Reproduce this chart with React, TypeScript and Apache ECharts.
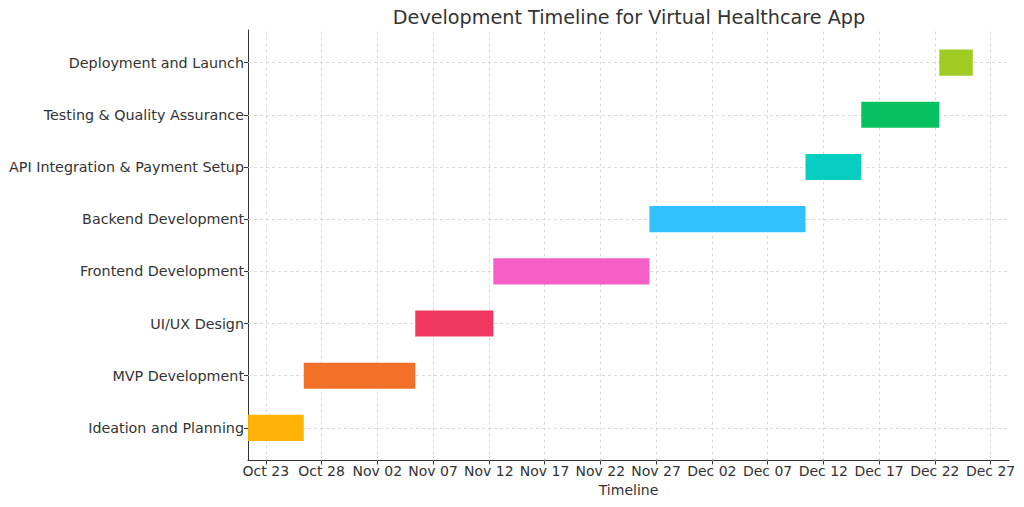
import React, { useEffect, useRef } from "react";
import * as echarts from "echarts";

const tasks = [
  "Ideation and Planning",
  "MVP Development",
  "UI/UX Design",
  "Frontend Development",
  "Backend Development",
  "API Integration & Payment Setup",
  "Testing & Quality Assurance",
  "Deployment and Launch",
];
const startDates = [
  "2023-10-21T09:40:00Z",
  "2023-10-26T09:40:00Z",
  "2023-11-05T09:40:00Z",
  "2023-11-12T09:40:00Z",
  "2023-11-26T09:40:00Z",
  "2023-12-10T09:40:00Z",
  "2023-12-15T09:40:00Z",
  "2023-12-22T09:40:00Z",
];
const durations = [5, 10, 7, 14, 14, 5, 7, 3];
const colors = [
  "#FFB000",
  "#F36B22",
  "#EF3158",
  "#F65AC4",
  "#2BBFFF",
  "#00CCC0",
  "#00C05C",
  "#9DC91C",
];
const tickDates = [
  "2023-10-23", "2023-10-28", "2023-11-02", "2023-11-07", "2023-11-12",
  "2023-11-17", "2023-11-22", "2023-11-27", "2023-12-02", "2023-12-07",
  "2023-12-12", "2023-12-17", "2023-12-22", "2023-12-27",
];
const monthNames = ["Jan", "Feb", "Mar", "Apr", "May", "Jun", "Jul", "Aug", "Sep", "Oct", "Nov", "Dec"];

const DAY = 86400000;
const toDay = (s: string) => Date.parse(s.length === 10 ? s + "T00:00:00Z" : s) / DAY;
const fmt = (d: number) => {
  const dt = new Date(Math.round(d * DAY));
  const dd = dt.getUTCDate();
  return monthNames[dt.getUTCMonth()] + " " + (dd < 10 ? "0" + dd : "" + dd);
};

export default function App() {
  const ref = useRef<HTMLDivElement>(null);
  useEffect(() => {
    if (!ref.current) return;
    const chart = echarts.init(ref.current, undefined, { renderer: "svg" });
    const starts = startDates.map(toDay);
    const ends = starts.map((s, i) => s + durations[i]);
    const xMin = Math.min(...starts);
    const xEndData = Math.max(...ends);
    const xMax = xEndData + 0.05 * (xEndData - xMin);
    const tickDays = tickDates.map(toDay);
    const yIdx = tasks.map((_, i) => i);
    const font = "DejaVu Sans";
    const gridLine = { color: "#d0d0d0", width: 0.8, type: [3, 3] as any };

    chart.setOption({
      animation: false,
      textStyle: { fontFamily: font },
      title: {
        text: "Development Timeline for Virtual Healthcare App",
        left: 624,
        top: 3,
        textAlign: "center",
        textStyle: { fontFamily: font, fontSize: 19.2, fontWeight: "normal", color: "#333" },
      },
      grid: { left: 248, right: 15, top: 30, bottom: 46.5, containLabel: false },
      xAxis: {
        type: "value",
        min: xMin,
        max: xMax,
        name: "Timeline",
        nameLocation: "middle",
        nameGap: 22,
        nameTextStyle: { fontFamily: font, fontSize: 14, color: "#333" },
        axisLine: { show: true, onZero: false, lineStyle: { color: "#333", width: 1 } },
        axisTick: { show: true, customValues: tickDays, length: 4, lineStyle: { color: "#333" } },
        axisLabel: {
          customValues: tickDays,
          formatter: (v: number) => fmt(v),
          fontFamily: font,
          fontSize: 14,
          color: "#333",
          margin: 3,
        },
        splitLine: { show: false },
      },
      yAxis: {
        type: "value",
        min: -0.625,
        max: 7.625,
        axisLine: { show: true, onZero: false, lineStyle: { color: "#333", width: 1 } },
        axisTick: { show: true, customValues: yIdx, length: 4, lineStyle: { color: "#333" } },
        axisLabel: {
          customValues: yIdx,
          formatter: (v: number) => tasks[Math.round(v)],
          fontFamily: font,
          fontSize: 14.3,
          color: "#333",
          margin: 4,
        },
        splitLine: { show: false },
      },
      series: [
        {
          type: "line",
          data: [],
          silent: true,
          z: 1,
          markLine: {
            silent: true,
            z: 1,
            symbol: "none",
            label: { show: false },
            lineStyle: gridLine,
            data: [
              ...tickDays.map((d) => ({ xAxis: d })),
              ...yIdx.map((i) => ({ yAxis: i })),
            ],
          },
        },
        {
          type: "custom",
          z: 10,
          encode: { x: [1, 2], y: 0 },
          data: tasks.map((_, i) => [i, starts[i], ends[i]]),
          renderItem: (params: any, api: any) => {
            const y = api.value(0);
            const s = api.coord([api.value(1), y]);
            const e = api.coord([api.value(2), y]);
            const h = api.size([0, 0.5])[1];
            return {
              type: "rect",
              shape: { x: s[0], y: s[1] - h / 2, width: e[0] - s[0], height: h },
              style: { fill: colors[params.dataIndex], opacity: 0.97 },
            };
          },
        },
      ],
    });
    return () => chart.dispose();
  }, []);
  return (
    <div
      ref={ref}
      style={{ position: "fixed", left: 0, top: 0, width: 1024, height: 507, background: "#fff" }}
    />
  );
}
